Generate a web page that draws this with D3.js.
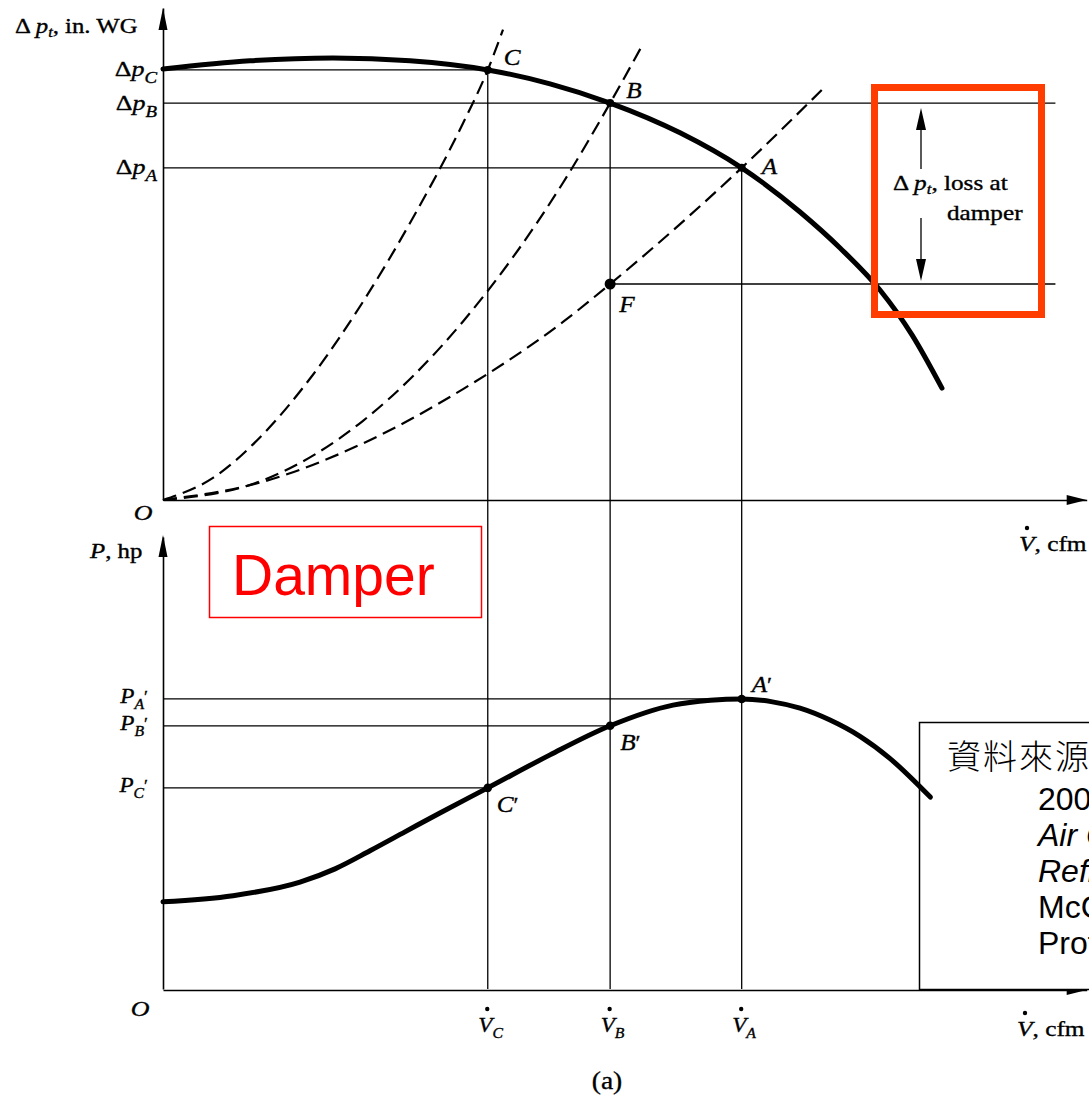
<!DOCTYPE html>
<html>
<head>
<meta charset="utf-8">
<script src="https://cdn.jsdelivr.net/npm/d3@7"></script>
<style>
  body { margin: 0; background: #fff; }
  svg { display: block; }
</style>
</head>
<body>
<svg id="chart" width="1089" height="1100"></svg>
<script>
// ---- Operating points (flow in relative cfm units, pressure in in. WG, power in hp) ----
const pointNames = ["C", "B", "A"];
const pointFlow  = [35.3, 48.6, 62.9];     // V̇_C, V̇_B, V̇_A
const pointDp    = [8.96, 8.27, 6.92];     // Δp_C, Δp_B, Δp_A
const pointPower = [4.57, 5.98, 6.59];     // P_C', P_B', P_A'
const dpF = 4.5;                           // system pressure at F (flow V̇_B, original system)

// ---- Fan total pressure curve ----
const fanFlow = [0, 9.46, 18.48, 26.85, 35.3, 42.07, 48.6, 56.2, 62.9, 69.24, 73.59, 77.93, 81.41, 84.67];
const fanDp   = [8.98, 9.15, 9.21, 9.15, 8.96, 8.67, 8.27, 7.65, 6.92, 6.0, 5.25, 4.375, 3.44, 2.33];

// ---- System curves (damper positions) ----
const sysCFlow = [0, 5.43, 10.87, 16.3, 21.74, 27.17, 32.61, 35.3, 36.96];
const sysCDp   = [0, 0.46, 1.37, 2.61, 4.13, 5.88, 7.85, 8.96, 9.8];
const sysBFlow = [0, 10.87, 21.74, 32.61, 43.48, 48.6, 52.17];
const sysBDp   = [0, 0.41, 1.65, 3.72, 6.61, 8.27, 9.5];
const sysAFlow = [0, 10.87, 21.74, 32.61, 43.48, 48.6, 62.9, 71.6];
const sysADp   = [0, 0.38, 1.18, 2.31, 3.71, 4.5, 6.92, 8.54];

// ---- Fan power curve ----
const powFlow = [0, 7.61, 14.89, 18.7, 22.5, 26.3, 30.1, 35.3, 42.07, 48.6, 55.43, 59.5, 62.9, 66.1, 69.24, 72.5, 75.76, 79.0, 83.4];
const powHp   = [1.98, 2.12, 2.43, 2.73, 3.14, 3.57, 4.0, 4.57, 5.32, 5.98, 6.45, 6.56, 6.59, 6.53, 6.38, 6.11, 5.74, 5.24, 4.36];

// ---- Text ----
const sourceLines = [
  [{ t: "資料來源：Shan K. Wang," }],
  [{ t: "2001, " }, { t: "Handbook of", i: 1 }],
  [{ t: "Air Conditioning and", i: 1 }],
  [{ t: "Refrigeration", i: 1 }, { t: ", 2nd ed.," }],
  [{ t: "McGraw-Hill" }],
  [{ t: "Professional." }]
];
const guideEndFlow = 97; // right end of the Δp_B / F guide lines

// ---- Scales ----
const x    = d3.scaleLinear().domain([0, 100.4]).range([163, 1086.7]);
const yTop = d3.scaleLinear().domain([0, 10.25]).range([500, 8]);
const yBot = d3.scaleLinear().domain([0, 10.27]).range([989, 537]);

const SERIF = '"Liberation Serif", "Times New Roman", serif';
const SANS = '"Liberation Sans", Arial, sans-serif';
const SX = 1.18; // horizontal stretch of the serif lettering

const svg = d3.select("#chart");

// rich text helper: parts = [{t, i (italic), dy, fs}]
function rich(sel, parts) {
  parts.forEach(p => {
    const ts = sel.append("tspan").text(p.t);
    if (p.i) ts.attr("font-style", "italic");
    if (p.dy) ts.attr("dy", p.dy);
    if (p.fs) ts.attr("font-size", p.fs);
  });
  return sel;
}
function label(parent, px, py, parts, opts = {}) {
  const fam = opts.family ?? SERIF;
  const t = parent.append("text")
    .attr("transform", `translate(${px},${py}) scale(${opts.sx ?? SX},1)`)
    .attr("font-family", fam)
    .attr("font-size", opts.size ?? 21)
    .attr("fill", opts.fill ?? "#000")
    .attr("text-anchor", opts.anchor ?? "start");
  if (fam === SERIF) t.attr("stroke", "#000").attr("stroke-width", 0.35);
  return rich(t, parts);
}

const zip = (a, b) => a.map((v, i) => [v, b[i]]);
const lineTop = d3.line().x(d => x(d[0])).y(d => yTop(d[1])).curve(d3.curveMonotoneX);
const lineBot = d3.line().x(d => x(d[0])).y(d => yBot(d[1])).curve(d3.curveMonotoneX);

// ---- Guide lines (drawn first, under the curves) ----
const guides = svg.append("g").attr("stroke", "#000").attr("stroke-width", 1.3).attr("fill", "none");
pointFlow.forEach((f, i) => {
  // horizontal from the Δp axis to the operating point
  guides.append("line")
    .attr("x1", x(0)).attr("x2", pointNames[i] === "B" ? x(guideEndFlow) : x(f))
    .attr("y1", yTop(pointDp[i])).attr("y2", yTop(pointDp[i]));
  // vertical from the operating point down to the lower flow axis
  guides.append("line")
    .attr("x1", x(f)).attr("x2", x(f))
    .attr("y1", yTop(pointDp[i])).attr("y2", yBot(0));
  // horizontal power guide
  guides.append("line")
    .attr("x1", x(0)).attr("x2", x(f))
    .attr("y1", yBot(pointPower[i])).attr("y2", yBot(pointPower[i]));
});
// F level guide
guides.append("line")
  .attr("x1", x(pointFlow[1])).attr("x2", x(guideEndFlow))
  .attr("y1", yTop(dpF)).attr("y2", yTop(dpF));

// ---- Axes ----
function styleAxis(g) {
  g.select(".domain").attr("stroke", "#000").attr("stroke-width", 1.6);
}
// top chart
svg.append("g").attr("transform", `translate(${x(0)},0)`)
  .call(d3.axisLeft(yTop).tickValues(pointDp).tickSize(0).tickSizeOuter(0).tickFormat(""))
  .call(styleAxis)
  .call(g => g.selectAll(".tick").each(function (d, i) {
    label(d3.select(this), -6, 6,
      [{ t: "Δ" }, { t: "p", i: 1 }, { t: pointNames[i], i: 1, dy: 7, fs: 16 }],
      { anchor: "end", size: 22 });
  }));
svg.append("g").attr("transform", `translate(0,${yTop(0)})`)
  .call(d3.axisBottom(x).tickValues([]).tickSizeOuter(0))
  .call(styleAxis);

// bottom chart
svg.append("g").attr("transform", `translate(${x(0)},0)`)
  .call(d3.axisLeft(yBot).tickValues(pointPower).tickSize(0).tickSizeOuter(0).tickFormat(""))
  .call(styleAxis)
  .call(g => g.selectAll(".tick").each(function (d, i) {
    label(d3.select(this), -15, 4,
      [{ t: "P", i: 1 }, { t: pointNames[i], i: 1, dy: 6, fs: 15 }, { t: "′", dy: -7, fs: 17 }],
      { anchor: "end", size: 22, sx: 1.05 });
  }));
svg.append("g").attr("transform", `translate(0,${yBot(0) + 1})`)
  .call(d3.axisBottom(x).tickValues(pointFlow).tickSize(0).tickSizeOuter(0).tickFormat(""))
  .call(styleAxis)
  .call(g => g.selectAll(".tick").each(function (d, i) {
    const tk = d3.select(this);
    label(tk, -10, 42, [{ t: "V", i: 1 }, { t: pointNames[i], i: 1, dy: 6, fs: 15 }], { size: 22, sx: 1.05 });
    tk.append("circle").attr("cx", -1).attr("cy", 19).attr("r", 2.2).attr("fill", "#000");
  }));

// arrowheads
const arrows = svg.append("g").attr("fill", "#000");
arrows.append("path").attr("d", `M${x(0)},${yTop(10.25)} l-4.5,22 h9 z`);
arrows.append("path").attr("d", `M${x(0)},${yBot(10.27) - 2} l-4.5,22 h9 z`);
arrows.append("path").attr("d", `M${x(100.4)},${yTop(0)} l-20,-5 v10 z`);
arrows.append("path").attr("d", `M${x(100.4)},${yBot(0) + 1} l-20,-5 v10 z`);

// axis titles
label(svg, 15, 33, [{ t: "Δ " }, { t: "p", i: 1 }, { t: "t", i: 1, dy: 4, fs: 14 }, { t: ", in. WG", dy: -4 }], { size: 21 });
label(svg, 90, 558, [{ t: "P", i: 1 }, { t: ", hp" }], { size: 21 });
label(svg, 143, 520, [{ t: "O", i: 1 }], { anchor: "middle", size: 22 });
label(svg, 140, 1016, [{ t: "O", i: 1 }], { anchor: "middle", size: 22 });
function flowTitle(px, py) {
  label(svg, px, py, [{ t: "V", i: 1 }, { t: ", cfm" }], { size: 21.5 });
  svg.append("circle").attr("cx", px + 8).attr("cy", py - 23).attr("r", 2.2).attr("fill", "#000");
}
flowTitle(1019, 551);
flowTitle(1017, 1036);
label(svg, 607, 1089, [{ t: "(a)" }], { anchor: "middle", size: 25, sx: 1.1 });

// ---- System curves ----
const dashed = svg.append("g").attr("fill", "none").attr("stroke", "#000")
  .attr("stroke-width", 2.2).attr("stroke-dasharray", "14,7");
[[sysCFlow, sysCDp], [sysBFlow, sysBDp], [sysAFlow, sysADp]].forEach(([f, p]) => {
  dashed.append("path").attr("d", lineTop(zip(f, p)));
});

// ---- Fan pressure curve ----
svg.append("path").attr("d", lineTop(zip(fanFlow, fanDp)))
  .attr("fill", "none").attr("stroke", "#000").attr("stroke-width", 5).attr("stroke-linecap", "round");

// ---- Source note box ----
const src = svg.append("g");
src.append("rect").attr("x", 919.5).attr("y", 722.5).attr("width", 300).attr("height", 267)
  .attr("fill", "#fff").attr("stroke", "#000").attr("stroke-width", 1.5);
sourceLines.forEach((parts, i) => {
  const first = i === 0;
  label(src, first ? 947 : 1038, first ? 769 : 810 + (i - 1) * 36, parts,
    { family: first ? '"Noto Sans CJK TC", "Liberation Sans", sans-serif' : SANS,
      size: first ? 34 : 32, sx: 1 })
    .attr("letter-spacing", first ? 2 : 0)
    .attr("font-weight", first ? 300 : 400);
});

// ---- Fan power curve ----
svg.append("path").attr("d", lineBot(zip(powFlow, powHp)))
  .attr("fill", "none").attr("stroke", "#000").attr("stroke-width", 5).attr("stroke-linecap", "round");

// ---- Operating point markers & labels ----
const dots = svg.append("g").attr("fill", "#000");
pointFlow.forEach((f, i) => {
  dots.append("circle").attr("cx", x(f)).attr("cy", yTop(pointDp[i])).attr("r", 4);
  dots.append("circle").attr("cx", x(f)).attr("cy", yBot(pointPower[i])).attr("r", 4.3);
});
dots.append("circle").attr("cx", x(pointFlow[1])).attr("cy", yTop(dpF)).attr("r", 5.5);

const topLabelOffsets = [[16, -5], [16, -5], [20, 6]];
pointNames.forEach((n, i) => {
  const [dx, dy] = topLabelOffsets[i];
  label(svg, x(pointFlow[i]) + dx, yTop(pointDp[i]) + dy, [{ t: n, i: 1 }], { size: 24, sx: 1.05 });
});
label(svg, x(pointFlow[1]) + 9, yTop(dpF) + 28, [{ t: "F", i: 1 }], { size: 24, sx: 1.05 });
const botLabelOffsets = [[9, 24], [10, 24], [10, -7]];
pointNames.forEach((n, i) => {
  const [dx, dy] = botLabelOffsets[i];
  label(svg, x(pointFlow[i]) + dx, yBot(pointPower[i]) + dy,
    [{ t: n, i: 1 }, { t: "′", fs: 22 }], { size: 24, sx: 1.05 });
});

// ---- Damper loss annotation ----
const loss = svg.append("g");
loss.append("rect").attr("x", 874.5).attr("y", 87.5).attr("width", 167).attr("height", 227)
  .attr("fill", "none").attr("stroke", "#ff3d00").attr("stroke-width", 7);
const ax = 921;
const yHi = yTop(pointDp[1]) + 5, yLo = yTop(dpF) - 3;
loss.append("line").attr("x1", ax).attr("x2", ax).attr("y1", yHi + 20).attr("y2", 169)
  .attr("stroke", "#000").attr("stroke-width", 1.3);
loss.append("line").attr("x1", ax).attr("x2", ax).attr("y1", 218).attr("y2", yLo - 20)
  .attr("stroke", "#000").attr("stroke-width", 1.3);
loss.append("path").attr("d", `M${ax},${yHi} l-5,22 h10 z`).attr("fill", "#000");
loss.append("path").attr("d", `M${ax},${yLo} l-5,-22 h10 z`).attr("fill", "#000");
label(loss, 893, 190, [{ t: "Δ " }, { t: "p", i: 1 }, { t: "t", i: 1, dy: 4, fs: 14 }, { t: ", loss at", dy: -4 }], { size: 21, sx: 1.2 });
label(loss, 947, 220, [{ t: "damper" }], { size: 21, sx: 1.2 });

// ---- Damper tag ----
const tag = svg.append("g");
tag.append("rect").attr("x", 209.5).attr("y", 526.5).attr("width", 272).attr("height", 91)
  .attr("fill", "none").attr("stroke", "#ff0000").attr("stroke-width", 1.5);
label(tag, 232, 595, [{ t: "Damper" }], { family: SANS, size: 57, sx: 1, fill: "#ff0000" });
</script>
</body>
</html>
